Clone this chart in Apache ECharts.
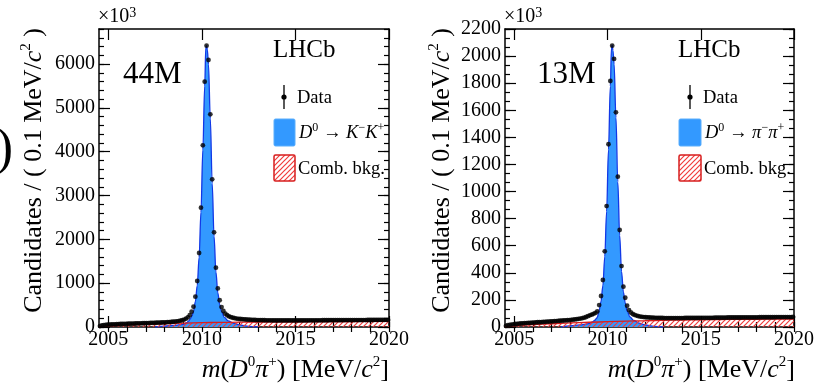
<!DOCTYPE html>
<html><head><meta charset="utf-8">
<script src="https://cdn.jsdelivr.net/npm/echarts@6/dist/echarts.min.js"></script>
<style>html,body{margin:0;padding:0;background:#fff}#c{width:817px;height:384px}</style>
</head><body><div id="c"></div>
<script>
// ---------------- DATA (values in units of 10^3 candidates) ----------------
const binLow = 2004.5, binWidth = 0.1;          // 0.1 MeV/c^2 bins
const xTickLabels = [2005, 2010, 2015, 2020];
const yTickLabelsKK = [0, 1000, 2000, 3000, 4000, 5000, 6000];
const yTickLabelsPP = [0, 200, 400, 600, 800, 1000, 1200, 1400, 1600, 1800, 2000, 2200];

// D0 -> K- K+ : data per bin (2004.55 ... 2019.95)
const dataKK = [
  22, 36, 43, 48, 52, 55, 58, 60, 62, 64,
  66, 68, 70, 71, 73, 74, 76, 77, 79, 80,
  81, 83, 84, 86, 87, 89, 90, 92, 93, 95,
  97, 99, 101, 103, 105, 107, 110, 113, 116, 120,
  124, 129, 136, 144, 155, 170, 190, 220, 270, 350,
  463, 692, 1050, 1689, 2723, 4146, 5598, 6419, 6093, 4854,
  3370, 2160, 1354, 880, 610, 455, 365, 305, 268, 242,
  224, 211, 201, 193, 187, 182, 178, 174, 171, 168,
  166, 164, 162, 160, 159, 157, 156, 155, 154, 153,
  152, 152, 151, 151, 150, 150, 150, 149, 149, 149,
  149, 149, 149, 150, 150, 150, 150, 150, 151, 151,
  151, 151, 152, 152, 152, 152, 153, 153, 153, 154,
  154, 154, 154, 155, 155, 155, 155, 156, 156, 156,
  156, 157, 157, 157, 157, 158, 158, 158, 158, 159,
  159, 159, 159, 160, 160, 160, 160, 161, 161, 161,
  161, 162, 162, 162, 162
];
// D0 -> pi- pi+ : data per bin
const dataPP = [
  8, 13, 16, 18, 20, 22, 23, 25, 26, 27,
  28, 29, 30, 31, 32, 33, 34, 35, 35, 36,
  37, 38, 39, 40, 41, 42, 43, 44, 45, 46,
  47, 48, 49, 50, 51, 53, 54, 56, 58, 60,
  62, 65, 69, 74, 80, 86, 91, 97, 104, 115,
  162, 229, 347, 559, 893, 1349, 1816, 2077, 1979, 1585,
  1110, 716, 450, 298, 216, 157, 125, 107, 96, 89,
  84, 80, 77, 75, 73, 72, 71, 70, 69, 69,
  68, 68, 67, 67, 67, 66, 66, 66, 66, 66,
  66, 66, 66, 66, 66, 66, 67, 67, 67, 67,
  67, 67, 67, 67, 68, 68, 68, 68, 68, 68,
  68, 68, 69, 69, 69, 69, 69, 69, 69, 70,
  70, 70, 70, 70, 70, 70, 70, 71, 71, 71,
  71, 71, 71, 71, 71, 71, 72, 72, 72, 72,
  72, 72, 72, 72, 72, 73, 73, 73, 73, 73,
  73, 73, 73, 73, 74
];

// Fit components: [mass, value]
const sigKK = [[2007.5,0],[2008,22],[2008.5,35],[2009,60],[2009.2,100],[2009.3,140],
  [2009.4,200],[2009.45,240],[2009.55,350],[2009.65,580],[2009.75,940],[2009.85,1580],[2009.95,2620],
  [2010.05,4040],[2010.15,5500],[2010.21,6380],[2010.25,6420],[2010.29,6330],[2010.35,5990],[2010.45,4750],
  [2010.55,3270],[2010.65,2060],[2010.75,1250],[2010.85,780],[2010.95,510],[2011.05,350],[2011.2,220],
  [2011.4,140],[2011.7,85],[2012,50],[2012.5,15],[2013,0]];
const bkgKK = [[2004.5,5],[2005,25],[2005.5,38],[2006,48],[2007,64],[2008,78],[2009,90],[2010,99],
  [2011,105],[2012,110],[2013,114],[2014,117],[2015,120],[2016,122],[2017,124],[2018,126],[2019,128],[2020,130]];

const sigPP = [[2007.5,0],[2008,9],[2008.5,15],[2009,25],[2009.2,38],[2009.3,48],
  [2009.4,62],[2009.45,72],[2009.55,122],[2009.65,188],[2009.75,305],[2009.85,518],[2009.95,852],
  [2010.05,1308],[2010.15,1778],[2010.21,2060],[2010.25,2080],[2010.29,2040],[2010.35,1940],[2010.45,1545],
  [2010.55,1070],[2010.65,676],[2010.75,410],[2010.85,258],[2010.95,176],[2011.05,118],[2011.2,75],
  [2011.4,48],[2011.7,28],[2012,16],[2012.5,5],[2013,0]];
const bkgPP = [[2004.5,2],[2005,9],[2005.5,14],[2006,18],[2007,24],[2008,30],[2009,35],[2010,39],
  [2011,43],[2012,46],[2013,49],[2014,51],[2015,53],[2016,55],[2017,56],[2018,57],[2019,58],[2020,59]];

// ---------------- CHART ----------------
const FONT = "'Liberation Serif','DejaVu Serif',serif";
const BLUE = '#3399ff', BLUELINE = '#1238e6', RED = '#d81e1e';

function hatchCanvas() {
  const c = document.createElement('canvas'); c.width = 5; c.height = 5;
  const g = c.getContext('2d');
  g.strokeStyle = '#f03c3c'; g.lineWidth = 1.2;
  g.beginPath();
  g.moveTo(-1, 6); g.lineTo(6, -1);
  g.moveTo(-3.5, 3.5); g.lineTo(3.5, -3.5);
  g.moveTo(1.5, 8.5); g.lineTo(8.5, 1.5);
  g.stroke();
  return c;
}
const hatch = { image: hatchCanvas(), repeat: 'repeat' };

function toPoints(vals) { return vals.map((v, i) => [binLow + binWidth * (i + 0.5), v]); }

const xMinor = []; for (let v = 2005; v <= 2020; v++) xMinor.push(v);
const yMinorKK = []; for (let v = 0; v <= 6800; v += 200) yMinorKK.push(v);
const yMinorPP = []; for (let k = 0; k <= 33; k++) yMinorPP.push(k * 200 / 3);

const grids = [
  { left: 99, top: 29, width: 290, height: 298 },
  { left: 505, top: 29, width: 291, height: 298 }
];
const yMax = [6800, 2200];
const yMajor = [yTickLabelsKK, yTickLabelsPP];
const yMinor = [yMinorKK, yMinorPP];
const axLine = { show: true, onZero: false, lineStyle: { color: '#000', width: 1.5 } };
const tickStyle = { color: '#000', width: 1.2 };

const xAxes = [], yAxes = [];
grids.forEach((g, gi) => {
  const base = { gridIndex: gi, type: 'value', min: 2004.5, max: 2020, splitLine: { show: false } };
  xAxes.push(Object.assign({}, base, { position: 'bottom', axisLine: axLine,
    axisTick: { inside: true, length: 11, customValues: xTickLabels, lineStyle: tickStyle },
    axisLabel: { customValues: xTickLabels, formatter: v => String(v), fontFamily: FONT, fontSize: 20, color: '#000', margin: 3 } }));
  xAxes.push(Object.assign({}, base, { position: 'bottom', axisLine: { show: false },
    axisTick: { inside: true, length: 5, customValues: xMinor, lineStyle: tickStyle }, axisLabel: { show: false } }));
  xAxes.push(Object.assign({}, base, { position: 'top', axisLine: axLine,
    axisTick: { inside: true, length: 11, customValues: xTickLabels, lineStyle: tickStyle }, axisLabel: { show: false } }));
  xAxes.push(Object.assign({}, base, { position: 'top', axisLine: { show: false },
    axisTick: { inside: true, length: 5, customValues: xMinor, lineStyle: tickStyle }, axisLabel: { show: false } }));

  const yb = { gridIndex: gi, type: 'value', min: 0, max: yMax[gi], splitLine: { show: false } };
  yAxes.push(Object.assign({}, yb, { position: 'left', axisLine: axLine,
    axisTick: { inside: true, length: 11, customValues: yMajor[gi], lineStyle: tickStyle },
    axisLabel: { customValues: yMajor[gi], formatter: v => String(v), fontFamily: FONT, fontSize: 20, color: '#000', margin: 4 } }));
  yAxes.push(Object.assign({}, yb, { position: 'left', axisLine: { show: false },
    axisTick: { inside: true, length: 5, customValues: yMinor[gi], lineStyle: tickStyle }, axisLabel: { show: false } }));
  yAxes.push(Object.assign({}, yb, { position: 'right', axisLine: axLine,
    axisTick: { inside: true, length: 11, customValues: yMajor[gi], lineStyle: tickStyle }, axisLabel: { show: false } }));
  yAxes.push(Object.assign({}, yb, { position: 'right', axisLine: { show: false },
    axisTick: { inside: true, length: 5, customValues: yMinor[gi], lineStyle: tickStyle }, axisLabel: { show: false } }));
});

const panelData = [
  { data: dataKK, sig: sigKK, bkg: bkgKK },
  { data: dataPP, sig: sigPP, bkg: bkgPP }
];
const series = [];
panelData.forEach((p, gi) => {
  const xi = gi * 4, yi = gi * 4;
  series.push({ type: 'line', xAxisIndex: xi, yAxisIndex: yi, data: p.sig, showSymbol: false,
    smooth: 0.35, smoothMonotone: 'x', z: 2,
    lineStyle: { color: BLUELINE, width: 1.3 }, areaStyle: { color: BLUE, opacity: 1 }, silent: true });
  series.push({ type: 'line', xAxisIndex: xi, yAxisIndex: yi, data: p.bkg, showSymbol: false,
    smooth: 0.3, z: 3, lineStyle: { color: RED, width: 1.3 }, areaStyle: { color: hatch, opacity: 1 }, silent: true });
  series.push({ type: 'scatter', xAxisIndex: xi, yAxisIndex: yi, data: toPoints(p.data),
    symbol: 'circle', symbolSize: 4.8, itemStyle: { color: '#000' }, z: 5, silent: true });
});

const sup = { fontFamily: FONT, fontSize: 15, verticalAlign: 'top', lineHeight: 14, fill: '#000' };
const it = { fontFamily: FONT, fontSize: 26, fontStyle: 'italic', fill: '#000', lineHeight: 30 };
const nm = { fontFamily: FONT, fontSize: 26, fill: '#000', lineHeight: 30 };
const richTitle = { sup: sup, it: it, nm: nm };
const yTitleText = '{nm|Candidates / ( 0.1 MeV/}{it|c}{sup|2}{nm| )}';
const xTitleText = '{it|m}{nm|(}{it|D}{sup|0}{it|π}{sup|+}{nm|) [MeV/}{it|c}{sup|2}{nm|]}';

const lsup = { fontFamily: FONT, fontSize: 12, verticalAlign: 'top', lineHeight: 10, fill: '#000' };
const lit = { fontFamily: FONT, fontSize: 18.5, fontStyle: 'italic', fill: '#000', lineHeight: 22 };
const lnm = { fontFamily: FONT, fontSize: 18.5, fill: '#000', lineHeight: 22 };
const richLeg = { sup: lsup, it: lit, nm: lnm };

function txt(x, y, text, opts) {
  return Object.assign({ type: 'text', x: x, y: y, z: 100,
    style: Object.assign({ text: text, fontFamily: FONT, fill: '#000', align: 'left', verticalAlign: 'middle' }, opts || {}) });
}

const graphic = [];
function panelGraphics(o) {
  graphic.push(Object.assign(txt(o.yt, 28, yTitleText, { rich: richTitle, align: 'right' }), { rotation: Math.PI / 2 }));
  graphic.push(txt(o.x3, 28, '{nm|×10}{sup|3}', { rich: { nm: { fontFamily: FONT, fontSize: 20, fill: '#000', lineHeight: 22 }, sup: { fontFamily: FONT, fontSize: 14, verticalAlign: 'top', lineHeight: 12, fill: '#000' } }, verticalAlign: 'bottom' }));
  graphic.push(txt(o.lhcb, 50, 'LHCb', { fontSize: 25 }));
  graphic.push(txt(o.nx, 75, o.n, { fontSize: 31 }));
  graphic.push({ type: 'line', z: 100, shape: { x1: o.mk, y1: 85, x2: o.mk, y2: 109 }, style: { stroke: '#000', lineWidth: 1.3 } });
  graphic.push({ type: 'circle', z: 100, shape: { cx: o.mk, cy: 97, r: 2.6 }, style: { fill: '#000' } });
  graphic.push(txt(o.mk + 13, 98, 'Data', { fontSize: 18.5 }));
  graphic.push({ type: 'rect', z: 100, shape: { x: o.box, y: 119, width: o.bw, height: 27, r: 1.5 }, style: { fill: BLUE, stroke: '#5aaefc', lineWidth: 1 } });
  graphic.push(txt(o.box + o.bw + 4, 133, o.leg, { rich: richLeg }));
  graphic.push({ type: 'rect', z: 100, shape: { x: o.box, y: 155, width: o.bw, height: 26, r: 1.5 }, style: { fill: hatch, stroke: RED, lineWidth: 1.5 } });
  graphic.push(txt(o.box + o.bw + 3, 169, 'Comb. bkg.', { fontSize: 18.5 }));
  graphic.push(txt(o.xt, 370, xTitleText, { rich: richTitle, align: 'right' }));
}
panelGraphics({ yt: 34, x3: 98, lhcb: 273, nx: 123, n: '44M', mk: 284, box: 274, bw: 21,
  leg: '{it|D}{sup|0}{nm| → }{it|K}{sup|−}{it|K}{sup|+}', xt: 389 });
panelGraphics({ yt: 442, x3: 504, lhcb: 678, nx: 537, n: '13M', mk: 690, box: 679, bw: 22,
  leg: '{it|D}{sup|0}{nm| → }{it|π}{sup|−}{it|π}{sup|+}', xt: 795 });
// clipped bracket from the neighbouring figure at the left edge
graphic.push(txt(13, 150, ')', { fontSize: 52, align: 'right' }));

const chart = echarts.init(document.getElementById('c'), null, { renderer: 'canvas' });
chart.setOption({
  animation: false,
  backgroundColor: '#fff',
  grid: grids,
  xAxis: xAxes,
  yAxis: yAxes,
  series: series,
  graphic: graphic
});
</script></body></html>
